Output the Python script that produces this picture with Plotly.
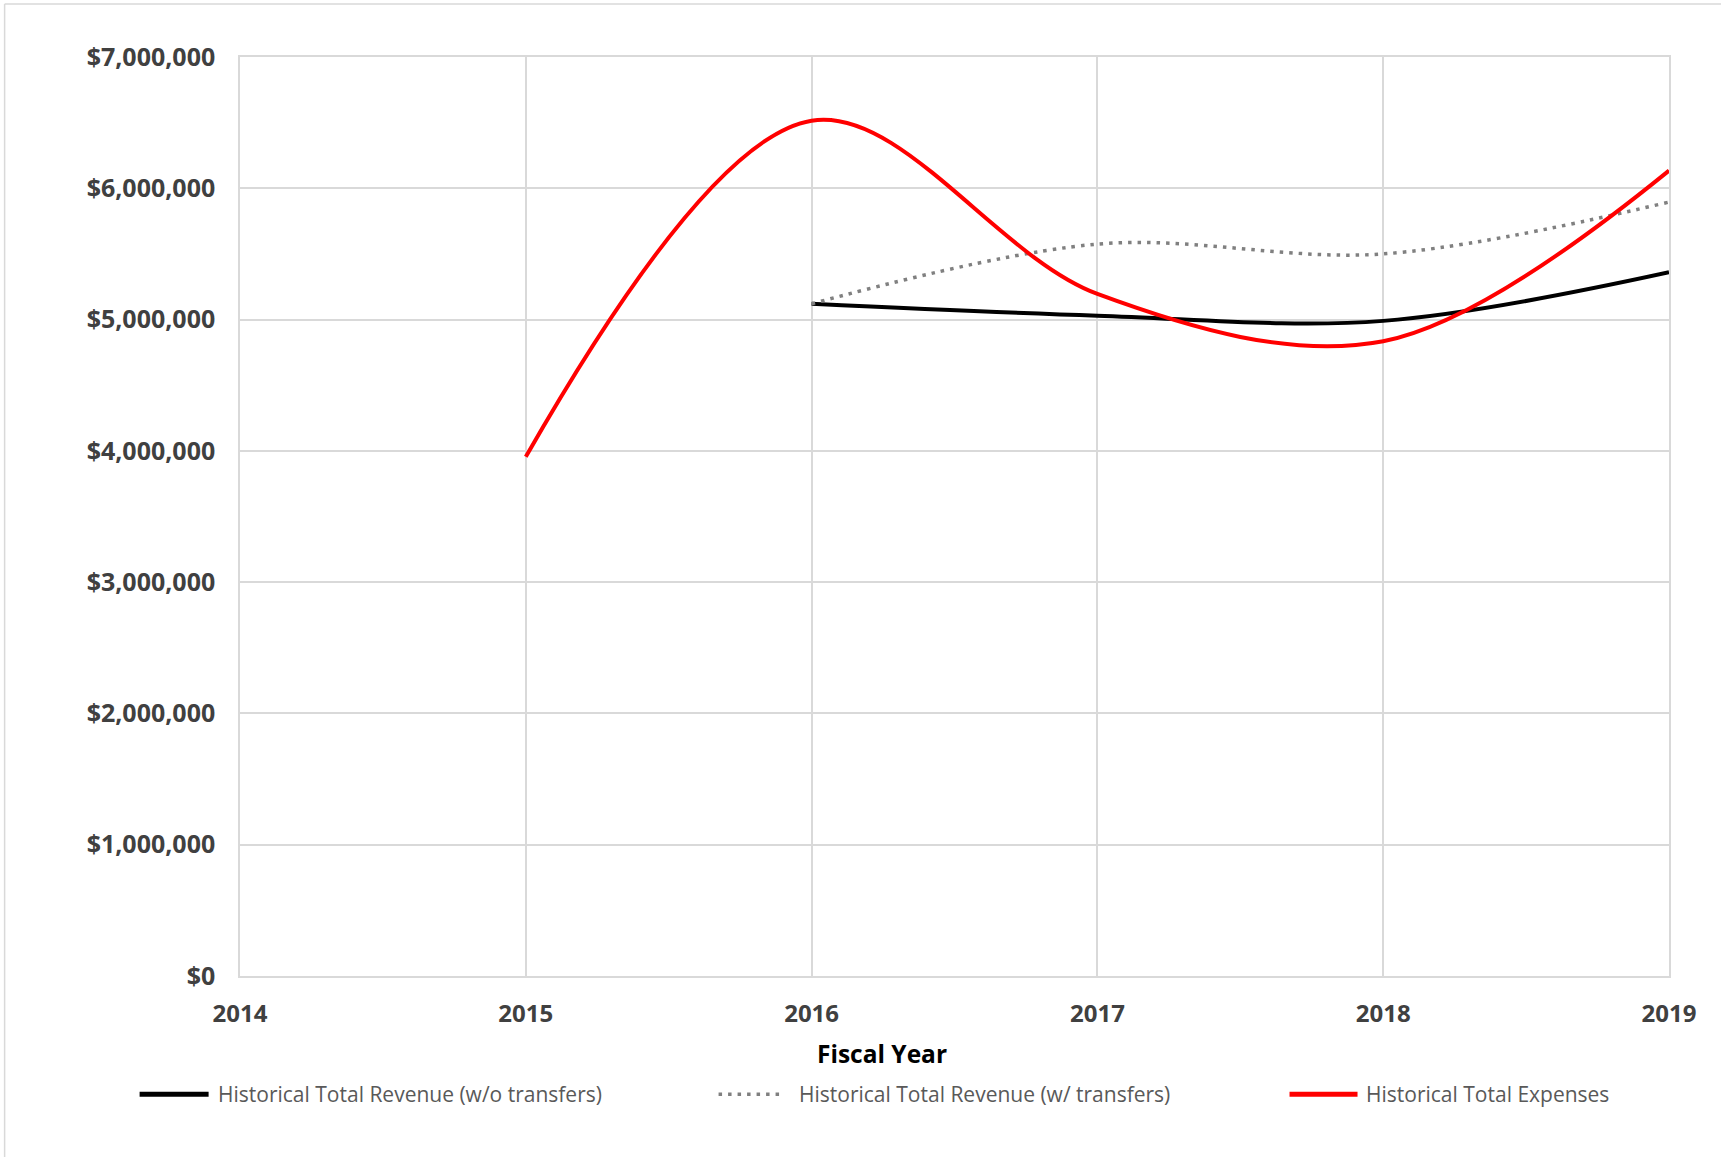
import plotly.graph_objects as go

# Fiscal years and historical totals (USD)
years = [2015, 2016, 2017, 2018, 2019]
revenue_wo_transfers = [None, 5120000, 5030000, 4990000, 5360000]
revenue_w_transfers = [None, 5120000, 5575000, 5500000, 5895000]
total_expenses = [3955000, 6515000, 5195000, 4835000, 6135000]

series_names = [
    "Historical Total Revenue (w/o transfers)",
    "Historical Total Revenue (w/ transfers)",
    "Historical Total Expenses",
]

y_ticks = [0, 1000000, 2000000, 3000000, 4000000, 5000000, 6000000, 7000000]
x_ticks = [2014, 2015, 2016, 2017, 2018, 2019]

W, H = 1721, 1157
L, R, T, B = 240.4, 1669.5, 57.0, 975.8
PW, PH = R - L, B - T


def px(x):
    return (x - L) / PW


def py(y):
    return (B - y) / PH


GRID = "#d9d9d9"
TICK = "#404040"
LEG_TXT = "#595959"
SMOOTH = 1.0

fig = go.Figure()

fig.add_trace(go.Scatter(
    x=years, y=revenue_wo_transfers, name=series_names[0], mode="lines",
    line=dict(color="#000000", width=4, shape="spline", smoothing=SMOOTH),
    showlegend=False,
))
fig.add_trace(go.Scatter(
    x=years, y=revenue_w_transfers, name=series_names[1], mode="lines",
    line=dict(color="#808080", width=3.5, shape="spline", smoothing=SMOOTH,
              dash="3.5px,6px"),
    showlegend=False,
))
fig.add_trace(go.Scatter(
    x=years, y=total_expenses, name=series_names[2], mode="lines",
    line=dict(color="#ff0000", width=4, shape="spline", smoothing=SMOOTH),
    showlegend=False,
))

fig.update_xaxes(
    range=[2014, 2019], tickvals=x_ticks, ticktext=[str(v) for v in x_ticks],
    showgrid=True, gridcolor=GRID, gridwidth=1.5,
    showline=True, linecolor=GRID, linewidth=1.5, mirror=True,
    zeroline=False, ticks="", ticklabelstandoff=15,
    tickfont=dict(family="Open Sans", size=24, color=TICK, weight="bold"),
)
fig.update_yaxes(
    range=[0, 7000000], tickvals=y_ticks,
    ticktext=["${:,.0f}".format(v) for v in y_ticks],
    showgrid=True, gridcolor=GRID, gridwidth=1.5,
    showline=True, linecolor=GRID, linewidth=1.5, mirror=True,
    zeroline=False, ticks="", ticklabelstandoff=18,
    tickfont=dict(family="Open Sans", size=25, color=TICK, weight="bold"),
)

shapes = []
annotations = []

# chart-area border (top and left edges visible)
shapes.append(dict(type="line", xref="paper", yref="paper",
                   x0=px(5), x1=px(W + 5), y0=py(4), y1=py(4),
                   line=dict(color=GRID, width=1.5)))
shapes.append(dict(type="line", xref="paper", yref="paper",
                   x0=px(5), x1=px(5), y0=py(4), y1=py(H + 5),
                   line=dict(color=GRID, width=1.5)))

# axis title
annotations.append(dict(
    text="Fiscal Year", xref="paper", yref="paper", x=px(882), y=py(1053),
    xanchor="center", yanchor="middle", showarrow=False,
    font=dict(family="Open Sans", size=24.5, color="#000000", weight="bold"),
))

# legend row
leg_y = py(1094)
legend_items = [
    (140, 209, 216, dict(color="#000000", width=5)),
    (719, 781, 797, dict(color="#808080", width=3.5, dash="3.5px,6px")),
    (1290, 1358, 1364, dict(color="#ff0000", width=5)),
]
for (x0, x1, xt, ln), name in zip(legend_items, series_names):
    shapes.append(dict(type="line", xref="paper", yref="paper",
                       x0=px(x0), x1=px(x1), y0=leg_y, y1=leg_y, line=ln))
    annotations.append(dict(
        text=name, xref="paper", yref="paper", x=px(xt), y=leg_y,
        xanchor="left", yanchor="middle", showarrow=False,
        font=dict(family="Open Sans", size=21, color=LEG_TXT),
    ))

fig.update_layout(
    width=W, height=H,
    margin=dict(l=L, r=W - R, t=T, b=H - B, autoexpand=False),
    paper_bgcolor="#ffffff", plot_bgcolor="#ffffff",
    shapes=shapes, annotations=annotations,
    showlegend=False,
)

fig.write_html("out.html")
